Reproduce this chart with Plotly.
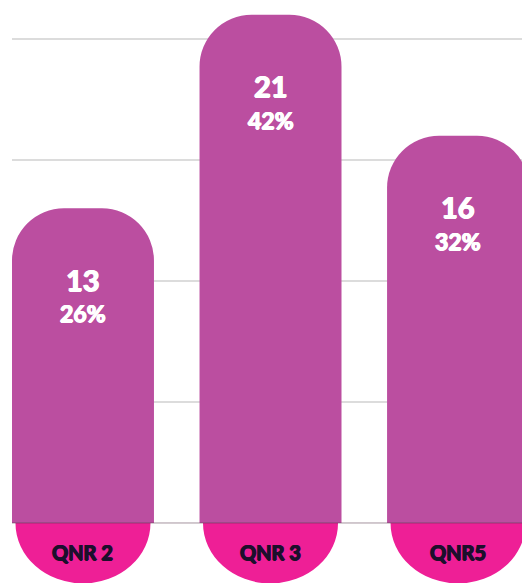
import plotly.graph_objects as go

# Survey counts per questionnaire
categories = ["QNR 2", "QNR 3", "QNR5"]
counts = [13, 21, 16]
shares = ["26%", "42%", "32%"]

BAR_COLOR = "#bb4ea0"
BADGE_COLOR = "#ee1f96"
LABEL_COLOR = "#1c0f2c"
FONT = "Lato"

W, H = 522, 583
bar_width = 0.757
positions = list(range(len(categories)))


def heavy(color):
    # thin same-colour shadow to thicken the strokes of the bold face
    return f"0.7px 0 0 {color}, -0.7px 0 0 {color}, 0 0.5px 0 {color}"


fig = go.Figure(
    go.Bar(
        x=positions,
        y=counts,
        width=bar_width,
        marker=dict(color=BAR_COLOR, line=dict(width=0)),
        hoverinfo="skip",
    )
)

# Rounded category badges hanging under the baseline
badge_half = 0.36
badge_depth = 2.5
for p, name in zip(positions, categories):
    fig.add_shape(
        type="circle",
        xref="x", yref="y",
        x0=p - badge_half, x1=p + badge_half,
        y0=-badge_depth, y1=badge_depth,
        fillcolor=BADGE_COLOR,
        line=dict(width=0),
        layer="below",
    )
    fig.add_annotation(
        x=p, y=-1.2, text=f"<b>{name}</b>", showarrow=False,
        font=dict(family=FONT, size=20, color=LABEL_COLOR, weight=900,
                  shadow=heavy(LABEL_COLOR)),
        xanchor="center", yanchor="middle",
    )

# Count and share printed near the top of each bar
for p, c, s in zip(positions, counts, shares):
    fig.add_annotation(
        x=p, y=c, yshift=-71, text=f"<b>{c}</b>", showarrow=False,
        font=dict(family=FONT, size=29, color="white", weight=900,
                  shadow=heavy("white")),
        xanchor="center", yanchor="middle",
    )
    fig.add_annotation(
        x=p, y=c, yshift=-105, text=f"<b>{s}</b>", showarrow=False,
        font=dict(family=FONT, size=23, color="white", weight=900,
                  shadow=heavy("white")),
        xanchor="center", yanchor="middle",
    )

# Baseline drawn over the bars
fig.add_shape(
    type="line", xref="paper", yref="y", x0=0, x1=1, y0=0, y1=0,
    line=dict(color="rgba(90,60,80,0.55)", width=1), layer="above",
)

fig.update_layout(
    width=W, height=H,
    margin=dict(l=12, r=0, t=0, b=0),
    paper_bgcolor="white",
    plot_bgcolor="white",
    showlegend=False,
    barcornerradius=52,
    xaxis=dict(
        range=[-bar_width / 2, 2.341],
        showgrid=False, zeroline=False, showticklabels=False, fixedrange=True,
    ),
    yaxis=dict(
        range=[-2.48, 21.61],
        tickvals=[5, 10, 15, 20],
        showgrid=True, gridcolor="#dcdcdc", gridwidth=2,
        zeroline=False, showticklabels=False, fixedrange=True,
    ),
)

fig.write_html("out.html", config={"displayModeBar": False})
